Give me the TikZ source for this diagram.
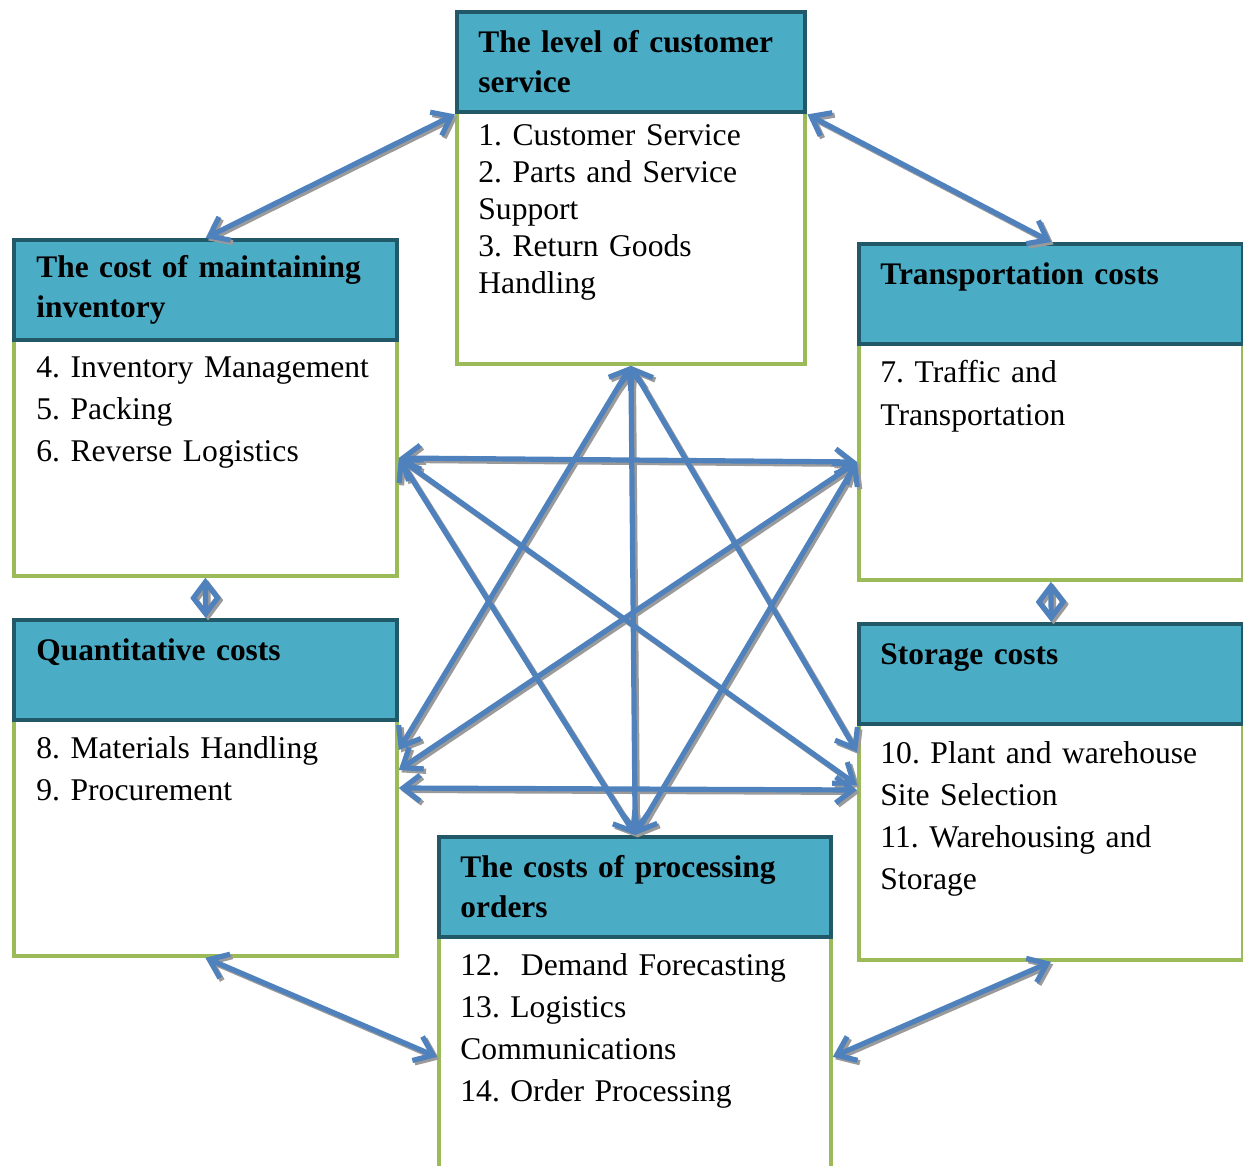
\documentclass[tikz,border=0pt]{standalone}
\usepackage{fontspec}
\setmainfont{Liberation Serif}
\usetikzlibrary{arrows.meta, calc}
\frenchspacing
\definecolor{headfill}{HTML}{4BACC6}
\definecolor{headline}{HTML}{215968}
\definecolor{bodyline}{HTML}{9BBB59}
\definecolor{linkblue}{HTML}{4F81BD}
\definecolor{linkgray}{HTML}{9A9A9A}
\tikzset{
x=0.5pt, y=-0.5pt, % one unit is one pixel of the page, y runs down
>={Straight Barb[length=8.5pt, width=13pt]}, % open arrow heads
head/.style={draw=headline, line width=2.2pt, fill=headfill, anchor=north west, minimum height=50pt, inner sep=0pt}, % dark title bar
body/.style={draw=bodyline, line width=1.9pt, fill=white, anchor=north west, inner sep=0pt}, % green frame under the title
headtext/.style={anchor=base west, inner sep=0pt, text width=190pt, align=left, font=\bfseries\fontsize{15.7}{20}\selectfont},
bodytext/.style={anchor=base west, inner sep=0pt, text width=190pt, align=left, font=\fontsize{15.8}{21}\selectfont},
linkshade/.style={<->, draw=linkgray, line width=2.6pt, transform canvas={shift={(1.2pt,-1.2pt)}}}, % shadow of an arrow
link/.style={<->, draw=linkblue, line width=2.6pt},
}

\begin{document}
\begin{tikzpicture}
        \useasboundingbox (0,0) rectangle (1243,1166);
        % customer service (top)
        \node[body, minimum width=174pt, minimum height=126pt] (csb) at (455,110) {};
        \node[head, minimum width=174pt] (csh) at (455,10) {};
        \node[headtext] at ($(csh.north west)+(23,43)$) {The level of customer\\service};
        \node[bodytext, font=\fontsize{15.8}{18.5}\selectfont] at ($(csb.north west)+(23,36)$)
            {1. Customer Service\\2. Parts and Service\\Support\\3. Return Goods\\Handling};
        % inventory (left, top)
        \node[body, minimum width=191.5pt, minimum height=118pt] (invb) at (12,338) {};
        \node[head, minimum width=191.5pt] (invh) at (12,238) {};
        \node[headtext] at ($(invh.north west)+(24,40)$) {The cost of maintaining\\inventory};
        \node[bodytext] at ($(invb.north west)+(24,40)$) {4. Inventory Management\\5. Packing\\6. Reverse Logistics};
        % transportation (right, top)
        \node[body, minimum width=192pt, minimum height=118pt] (trb) at (857,342) {};
        \node[head, minimum width=192pt] (trh) at (857,242) {};
        \node[headtext] at ($(trh.north west)+(23,43)$) {Transportation costs};
        \node[bodytext] at ($(trb.north west)+(23,41)$) {7. Traffic and\\Transportation};
        % quantitative (left, bottom)
        \node[body, minimum width=191.5pt, minimum height=118pt] (qcb) at (12,718) {};
        \node[head, minimum width=191.5pt] (qch) at (12,618) {};
        \node[headtext] at ($(qch.north west)+(24,42)$) {Quantitative costs};
        \node[bodytext] at ($(qcb.north west)+(24,40)$) {8. Materials Handling\\9. Procurement};
        % storage (right, bottom)
        \node[body, minimum width=192pt, minimum height=118pt] (stb) at (857,722) {};
        \node[head, minimum width=192pt] (sth) at (857,622) {};
        \node[headtext] at ($(sth.north west)+(23,42)$) {Storage costs};
        \node[bodytext] at ($(stb.north west)+(23,41)$) {10. Plant and warehouse\\Site Selection\\11. Warehousing and\\Storage};
        % processing orders (bottom)
        \node[body, minimum width=196pt, minimum height=120pt] (pob) at (437,935) {};
        \node[head, minimum width=196pt] (poh) at (437,835) {};
        \node[headtext] at ($(poh.north west)+(23,42)$) {The costs of processing\\orders};
        \node[bodytext] at ($(pob.north west)+(23,40)$) {12.\ \ Demand Forecasting\\13. Logistics\\Communications\\14. Order Processing};
        % arrow ends on the box sides
        \coordinate (inv1) at ($(invb.north east)+(0,120)$);
        \coordinate (tr1) at ($(trb.north west)+(0,120)$);
        \coordinate (qc1) at ($(qcb.north east)+(0,32)$);
        \coordinate (qc2) at ($(qcb.north east)+(0,52)$);
        \coordinate (qc3) at ($(qcb.north east)+(0,70)$);
        \coordinate (st1) at ($(stb.north west)+(0,30)$);
        \coordinate (st2) at ($(stb.north west)+(0,63)$);
        \coordinate (st3) at ($(stb.north west)+(0,68)$);
        % arrows: ring first, then the star
        \def\linkpairs{csh.south west/invh.north, csh.south east/trh.north,
            invb.south/qch.north, trb.south/sth.north, qcb.south/pob.west, stb.south/pob.east,
            csb.south/poh.north, csb.south/qc1, csb.south/st1, inv1/tr1, inv1/poh.north,
            inv1/st2, tr1/qc2, tr1/poh.north, qc3/st3}
        \foreach \a/\b in \linkpairs
            \draw[linkshade] (\a) -- (\b);
        \foreach \a/\b in \linkpairs
            \draw[link] (\a) -- (\b);
\end{tikzpicture}
\end{document}
